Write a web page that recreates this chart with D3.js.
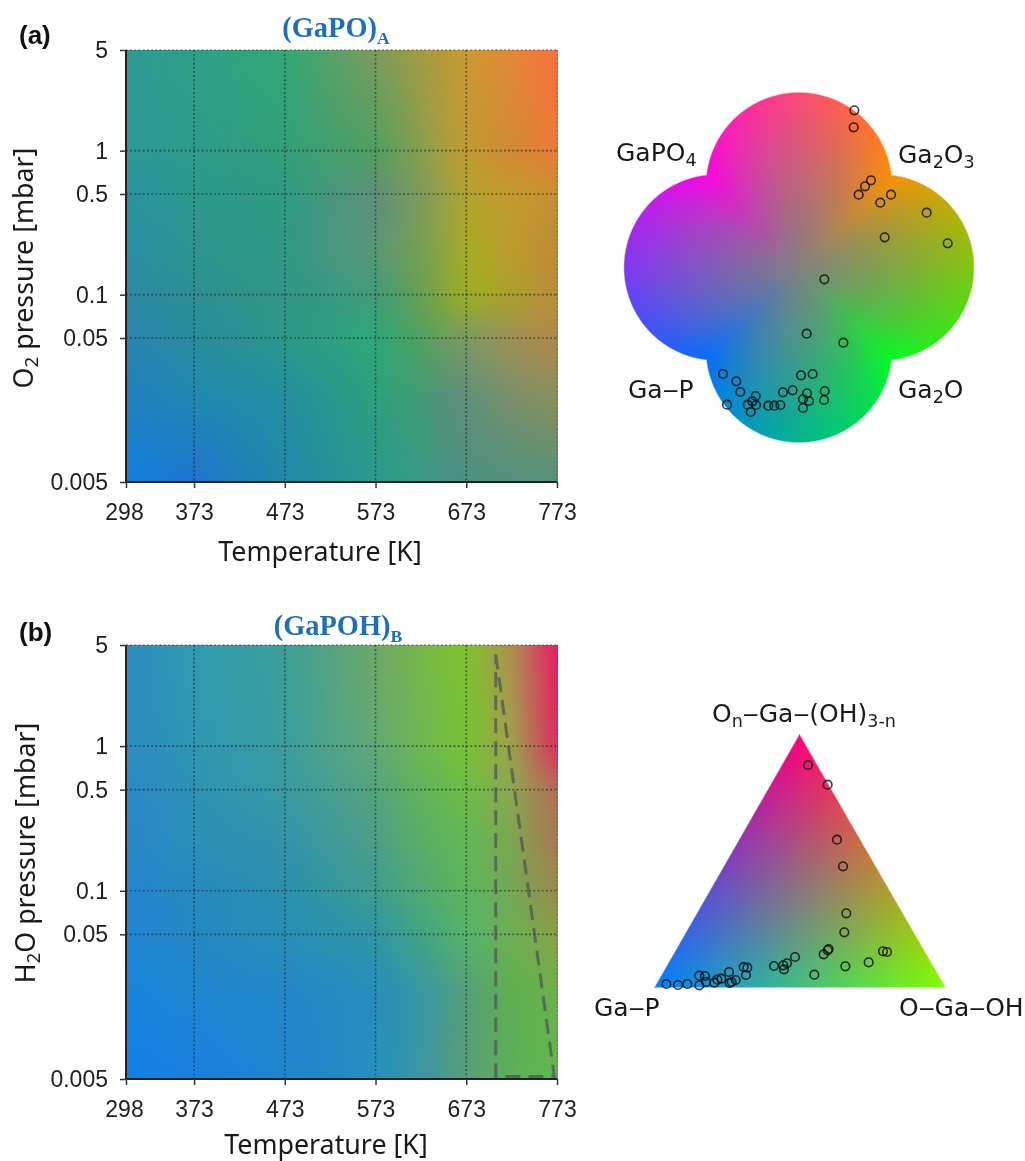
<!DOCTYPE html>
<html><head><meta charset="utf-8">
<script src="https://cdn.jsdelivr.net/npm/d3@7"></script>
<style>
html,body{margin:0;padding:0;background:#fff;overflow:hidden}
#wrap{position:relative;width:1025px;height:1161px}
canvas,svg{position:absolute;left:0;top:0}
svg{filter:blur(0.35px)}
</style></head><body>
<div id="wrap"><canvas id="cv" width="1025" height="1161"></canvas><svg id="sv" width="1025" height="1161"></svg></div>
<script>
const xTicks=[298,373,473,573,673,773];
const yTicks=[5,1,0.5,0.1,0.05,0.005];
const gridTA=[298,373,473,573,623,648,673,723,773];
const gridTB=[298,373,473,573,623,673,723,773];
const gridP=[5,1,0.5,0.2,0.1,0.05,0.02,0.005];
const mapA=[
["#2e9a94","#2e9f86","#2fa874","#7d9a5c","#a59a42","#b89a38","#cc9a30","#e38838","#fb6e3c"],
["#2c9a9a","#2d9c8a","#319f78","#4fa060","#869f4c","#a89e3e","#c09a30","#d08a30","#ee7a38"],
["#2a929f","#2c9a8c","#2e9c80","#5f8f7a","#7f9a5a","#97a048","#b3a52a","#c49a2e","#c88f32"],
["#2a8ea6","#2c948f","#2f9a84","#5a9678","#74a04f","#8da43f","#a8ad22","#bb9c2c","#bf8a36"],
["#2b8aa8","#2b9090","#319686","#3f9c78","#68a04e","#82a838","#9cb01e","#ac9f2c","#bb8e38"],
["#2a82b0","#288c9e","#2c9888","#2da878","#50a060","#6c9c60","#7a9a64","#a08f56","#b08848"],
["#2080c0","#1f88b0","#2090a0","#2ca07c","#3e9c72","#548e78","#5f9078","#7a8f68","#8a8f5a"],
["#0f80da","#1d74d0","#2088a8","#2b9a90","#3a9a84","#449480","#4a9080","#50907c","#559078"]];
const mapB=[
["#2e8cc0","#309bb0","#3b9f98","#6ea866","#74b848","#7dc52c","#b18d52","#ea1a66"],
["#2c8cc4","#2e96b2","#389e9e","#63a874","#6eb852","#76c332","#9ea24a","#df2a60"],
["#2a88c8","#2d93b4","#379aa2","#55a37e","#62b25a","#6cbd46","#8ba850","#b8695a"],
["#2786cc","#2a8fb8","#3392aa","#489e8a","#58ad66","#62b757","#7aa650","#a87a50"],
["#2486d0","#2689be","#2a90ae","#3d9c90","#4fa96f","#5cb55f","#72a855","#9a8a4a"],
["#1f86d4","#2389c4","#2690b6","#2f96a4","#40a482","#55b56a","#6cb052","#8aa044"],
["#1684dc","#1e85d0","#2088c8","#268ebc","#3896a4","#549e76","#5eb050","#6cb04c"],
["#0f80e8","#1880e0","#1e84d0","#2590c0","#3a96a0","#5a9c78","#5cb058","#5fb84e"]];
const regionT=[705.5,770,705.5,705.5];
const regionP=[4.3,0.0052,0.0052,4.3];
const quadX=[763,761,813,795,776,873,841,980,854,1043,673,620,730,369,409,421,467,381,443,457,468,452,505,523,541,549,578,603,638,621,609,627,609,674,672];
const quadY=[91,142,301,319,344,344,368,398,472,490,598,761,788,882,904,936,948,974,974,964,975,996,977,977,975,937,931,886,882,940,957,963,984,933,960];
const triX=[684,743,771,789,799,793,746,743,731,645,621,610,612,582,703,796,866,909,921,491,502,498,447,467,455,449,424,412,403,375,358,378,358,322,294,259];
const triY=[225,284,449,529,670,727,777,781,793,801,820,826,838,828,854,829,817,784,786,831,833,855,846,870,876,879,866,869,878,858,857,876,886,882,885,882];
const quadCorners=["#ff9000","#ff00e6","#006eff","#00ff20"]; // 45,135,225,315 deg
const triCorners=["#ff0078","#0080ff","#80ff00"];

const ctx=document.getElementById('cv').getContext('2d');
const img=ctx.createImageData(1025,1161);
function put(px,py,c,a){const i=(py*1025+px)*4;img.data[i]=c[0];img.data[i+1]=c[1];img.data[i+2]=c[2];img.data[i+3]=a===undefined?255:a;}
const rgb=h=>{const c=d3.rgb(h);return [c.r,c.g,c.b];};
function smooth(buf,w,h,r,passes){
  const tmp=new Float32Array(buf.length);
  const one=(src,dst,n,m,idx)=>{
    for(let b=0;b<m;b++)for(let ch=0;ch<3;ch++){
      let sum=0;
      for(let k=-r;k<=r;k++)sum+=src[idx(Math.max(0,Math.min(n-1,k)),b)*3+ch];
      for(let a=0;a<n;a++){
        dst[idx(a,b)*3+ch]=sum/(2*r+1);
        sum+=src[idx(Math.min(n-1,a+r+1),b)*3+ch]-src[idx(Math.max(0,a-r),b)*3+ch];
      }
    }
  };
  for(let p=0;p<passes;p++){
    one(buf,tmp,w,h,(a,b)=>b*w+a);
    one(tmp,buf,h,w,(a,b)=>a*w+b);
  }
}
const svg=d3.select('#sv');
const sansF='"Liberation Sans",Arial,sans-serif', labF='"Noto Sans",sans-serif', dvF='"DejaVu Sans",sans-serif';

function rich(g,x,y,parts,o){
  const t=g.append('text').attr('x',x).attr('y',y).attr('font-family',o.font).attr('font-size',o.size).attr('fill',o.fill||'#1a1a1a')
    .attr('font-weight',o.weight||'normal').attr('text-anchor',o.anchor||'start');
  if(o.transform)t.attr('transform',o.transform);
  let sub=false;
  parts.forEach(p=>{
    const isSub=Array.isArray(p);const s=t.append('tspan').text(isSub?p[0]:p);
    if(isSub&&!sub)s.attr('dy',o.size*(o.subDy||0.2)).attr('font-size',o.size*(o.subSize||0.7));
    if(!isSub&&sub)s.attr('dy',-o.size*(o.subDy||0.2));
    sub=isSub;
  });
  return t;
}

function heat(top,bottom,data,gridT,o){
  const left=126,right=557;
  const x=d3.scaleLinear().domain([298,773]).range([left,right]);
  const y=d3.scaleLog().domain([0.005,5]).range([bottom,top]);
  const grid=data.map(r=>r.map(rgb));
  const lp=gridP.map(Math.log10);
  const W=right-left+1,H=bottom-top+1;
  const buf=new Float32Array(W*H*3);
  for(let py=top;py<=bottom;py++){
    const lv=Math.log10(y.invert(py));
    let j=0;while(j<lp.length-2&&lv<lp[j+1])j++;
    const fy=Math.min(1,Math.max(0,(lp[j]-lv)/(lp[j]-lp[j+1])));
    for(let px=left;px<=right;px++){
      const tv=x.invert(px);
      let k=0;while(k<gridT.length-2&&tv>gridT[k+1])k++;
      const fx=Math.min(1,Math.max(0,(tv-gridT[k])/(gridT[k+1]-gridT[k])));
      for(let n=0;n<3;n++){
        const a=grid[j][k][n]*(1-fx)+grid[j][k+1][n]*fx;
        const b=grid[j+1][k][n]*(1-fx)+grid[j+1][k+1][n]*fx;
        buf[((py-top)*W+px-left)*3+n]=a*(1-fy)+b*fy;
      }
    }
  }
  smooth(buf,W,H,8,2);
  for(let py=top;py<=bottom;py++)for(let px=left;px<=right;px++){
    const i=((py-top)*W+px-left)*3;put(px,py,[buf[i],buf[i+1],buf[i+2]]);
  }
  const g=svg.append('g');
  const gridCol='rgba(35,45,50,0.68)';
  const dots='1.8 2.4';
  g.selectAll('.gx').data(xTicks.slice(1,-1)).enter().append('line').attr('x1',d=>x(d)).attr('x2',d=>x(d)).attr('y1',top).attr('y2',bottom)
    .attr('stroke',gridCol).attr('stroke-width',1.6).attr('stroke-dasharray',dots);
  g.selectAll('.gy').data(yTicks.slice(1,-1)).enter().append('line').attr('x1',left).attr('x2',right).attr('y1',d=>y(d)).attr('y2',d=>y(d))
    .attr('stroke',gridCol).attr('stroke-width',1.6).attr('stroke-dasharray',dots);
  g.append('line').attr('x1',left).attr('x2',right).attr('y1',top).attr('y2',top).attr('stroke','rgba(70,80,80,.65)').attr('stroke-width',1.5).attr('stroke-dasharray',dots);
  g.append('line').attr('x1',right).attr('x2',right).attr('y1',top).attr('y2',bottom).attr('stroke','rgba(70,80,80,.45)').attr('stroke-width',1.3).attr('stroke-dasharray',dots);
  const ax=g.append('g').attr('transform',`translate(0,${bottom})`).call(d3.axisBottom(x).tickValues(xTicks).tickFormat(d3.format('d')).tickSize(6).tickPadding(16));
  const ay=g.append('g').attr('transform',`translate(${left},0)`).call(d3.axisLeft(y).tickValues(yTicks).tickFormat(d=>String(d)).tickSize(6).tickPadding(12));
  [ax,ay].forEach(a=>{a.selectAll('text').attr('font-family',sansF).attr('font-size',23).attr('fill','#1e1e1e');
    a.selectAll('line').attr('stroke','#333').attr('stroke-width',1.5);a.select('.domain').attr('stroke','#222').attr('stroke-width',2);});
  ax.select('.domain').attr('d',`M${left},0H${right}`);
  ay.select('.domain').attr('d',`M0,${top}V${bottom}`);
  ax.selectAll('text').attr('dy','0.71em');
  ax.selectAll('.tick text').filter(d=>d===298).attr('dx',-2);
  rich(g,o.xTitleX,o.xTitleY,['Temperature [K]'],{font:labF,size:26.8,anchor:'middle'});
  rich(g,0,0,o.yTitle,{font:labF,size:26.8,anchor:'middle',transform:`translate(${o.yTitleBase},${o.yTitleMid}) rotate(-90)`});
  rich(g,o.titleX,o.titleY,o.title,{font:'"Liberation Serif",serif',size:28.4,weight:'bold',fill:'#1e6fb8',anchor:'middle',subSize:0.62,subDy:0.25});
  rich(g,19,o.tagY,[o.tag],{font:sansF,size:26,weight:'bold',fill:'#111'});
  if(o.region){
    const line=d3.line().x((d,i)=>x(regionT[i])).y((d,i)=>y(regionP[i]));
    g.append('path').attr('d',line(regionT)).attr('fill','none').attr('stroke','rgba(78,84,78,0.72)').attr('stroke-width',3).attr('stroke-dasharray','15 8');
  }
}

heat(50,482,mapA,gridTA,{xTitleX:320,xTitleY:561,yTitle:['O',['2'],' pressure [mbar]'],yTitleBase:33,yTitleMid:268,title:['(GaPO)',['A']],titleX:336,titleY:37,tag:'(a)',tagY:44});
heat(645,1079,mapB,gridTB,{xTitleX:326,xTitleY:1154,yTitle:['H',['2'],'O pressure [mbar]'],yTitleBase:35,yTitleMid:853,title:['(GaPOH)',['B']],titleX:338,titleY:635,tag:'(b)',tagY:641,region:true});

// four-lobed composition key
(function(){
  const cx=798.5,cy=267,r=93,d=82;
  const xs=d3.scaleLinear().domain([0,1200]).range([600,1000]);
  const ys=d3.scaleLinear().domain([0,1110]).range([80,450]);
  const corners=quadCorners.map(rgb);
  const lobes=[0,90,180,270].map(a=>a*Math.PI/180);
  const centres=lobes.map(a=>[cx+d*Math.cos(a),cy-d*Math.sin(a)]);
  const x0=610,y0=80,W=380,H=375;
  const buf=new Float32Array(W*H*3);
  for(let py=y0;py<y0+H;py++)for(let px=x0;px<x0+W;px++){
    const dx=px-cx,dy=cy-py,rho=Math.hypot(dx,dy);
    const th=Math.atan2(dy,dx);
    const R=d3.max(lobes,a=>{const s=d*Math.sin(th-a);const q=r*r-s*s;return q<0?0:d*Math.cos(th-a)+Math.sqrt(q);});
    const s=Math.min(1,rho/R);
    const ang=(th*180/Math.PI-45+360)%360;
    const i=Math.floor(ang/90),f=ang/90-i;
    const a=corners[i],b=corners[(i+1)%4];
    for(let n=0;n<3;n++)buf[((py-y0)*W+px-x0)*3+n]=128+s*((a[n]*(1-f)+b[n]*f)-128);
  }
  smooth(buf,W,H,7,2);
  for(let py=y0;py<y0+H;py++)for(let px=x0;px<x0+W;px++){
    const sd=d3.min(centres,c=>Math.hypot(px-c[0],py-c[1]))-r;
    if(sd>0.7)continue;
    const i=((py-y0)*W+px-x0)*3;
    put(px,py,[buf[i],buf[i+1],buf[i+2]],Math.round(255*Math.min(1,Math.max(0,0.7-sd)/1.4)));
  }
  const g=svg.append('g');
  g.selectAll('circle').data(quadX).enter().append('circle').attr('cx',d=>xs(d)).attr('cy',(d,i)=>ys(quadY[i])).attr('r',4.3)
    .attr('fill','none').attr('stroke','rgba(10,10,10,.8)').attr('stroke-width',1.6);
  const o={font:dvF,size:25,subDy:0.2,subSize:0.7};
  rich(g,616,161,['GaPO',['4']],o);
  rich(g,898,163,['Ga',['2'],'O',['3']],o);
  rich(g,628,398,['Ga\u2012P'],o);
  rich(g,898,398,['Ga',['2'],'O'],o);
})();

// ternary key
(function(){
  const A=[799,734],B=[654,987],C=[945,987];
  const xs=d3.scaleLinear().domain([0,1335]).range([580,1025]);
  const ys=d3.scaleLinear().domain([0,1080]).range([690,1050]);
  const cs=triCorners.map(rgb);
  const D=(B[1]-C[1])*(A[0]-C[0])+(C[0]-B[0])*(A[1]-C[1]);
  for(let py=730;py<990;py++)for(let px=650;px<950;px++){
    const w1=((B[1]-C[1])*(px-C[0])+(C[0]-B[0])*(py-C[1]))/D;
    const w2=((C[1]-A[1])*(px-C[0])+(A[0]-C[0])*(py-C[1]))/D;
    const w3=1-w1-w2;
    const m=Math.min(w1*253,w2*253,w3*253);
    if(m<-0.7)continue;
    const c=[0,1,2].map(n=>w1*cs[0][n]+w2*cs[1][n]+w3*cs[2][n]);
    put(px,py,c.map(v=>Math.max(0,Math.min(255,v))),Math.round(255*Math.min(1,(m+0.7)/1.4)));
  }
  const g=svg.append('g');
  g.selectAll('circle').data(triX).enter().append('circle').attr('cx',d=>xs(d)).attr('cy',(d,i)=>ys(triY[i])).attr('r',4.3)
    .attr('fill','none').attr('stroke','rgba(10,10,10,.8)').attr('stroke-width',1.6);
  const o={font:dvF,size:25,subDy:0.2,subSize:0.7};
  rich(g,712,722,['O',['n'],'\u2012Ga\u2012(OH)',['3-n']],o);
  rich(g,594,1016,['Ga\u2012P'],o);
  rich(g,899,1016,['O\u2012Ga\u2012OH'],o);
})();
ctx.putImageData(img,0,0);
</script></body></html>
